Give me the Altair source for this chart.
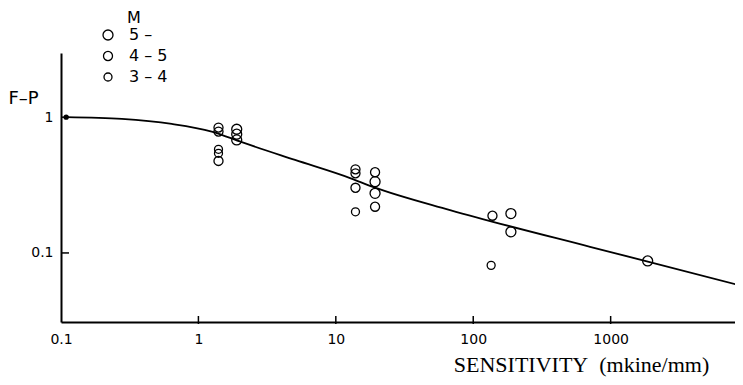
import altair as alt
import pandas as pd

# Observations: sensitivity (mkine/mm), F-P ratio, magnitude class
obs_x = [1.4, 1.4, 1.4, 1.4, 1.4,
         1.9, 1.9, 1.9,
         13.9, 13.9, 13.9, 13.9,
         19.3, 19.3, 19.3, 19.3,
         138, 135,
         188, 188,
         1860]
obs_y = [0.838, 0.783, 0.580, 0.542, 0.476,
         0.815, 0.749, 0.680,
         0.413, 0.386, 0.302, 0.201,
         0.393, 0.335, 0.275, 0.219,
         0.188, 0.081,
         0.195, 0.143,
         0.0873]
obs_m = ["4 – 5", "4 – 5", "3 – 4", "3 – 4", "4 – 5",
         "5 –", "5 –", "5 –",
         "4 – 5", "4 – 5", "4 – 5", "3 – 4",
         "4 – 5", "5 –", "5 –", "4 – 5",
         "4 – 5", "3 – 4",
         "5 –", "5 –",
         "5 –"]

# Fitted curve
curve_x = [0.109, 0.277, 0.64, 1.25, 2.07, 5.05, 12.7, 18.6, 67.8, 708, 1637, 8750]
curve_y = [1.0, 0.971, 0.892, 0.783, 0.654, 0.484, 0.356, 0.307, 0.207, 0.111, 0.0894, 0.0577]

start_x = [0.109]
start_y = [1.0]

legend_order = ["5 –", "4 – 5", "3 – 4"]
legend_sizes = [100, 64, 25]

x_ticks = [0.1, 1, 10, 100, 1000]
x_inner_ticks = [1, 10, 100, 1000]
y_ticks = [0.1, 1]

W, H = 674, 269

obs = pd.DataFrame({"x": obs_x, "y": obs_y, "M": obs_m})
curve = pd.DataFrame({"x": curve_x, "y": curve_y})
start = pd.DataFrame({"x": start_x, "y": start_y})
xt = pd.DataFrame({"t": x_inner_ticks})
yt = pd.DataFrame({"t": y_ticks})

xscale = alt.Scale(type="log", domain=[0.1, 8035], nice=False)
yscale = alt.Scale(type="log", domain=[0.031, 2.97], nice=False)

font = "DejaVu Sans"

x_axis = alt.Axis(
    values=x_ticks, format="~g", ticks=False, grid=False,
    labelPadding=10, labelFlush=False, labelOverlap=False,
    labelFont=font, labelFontSize=14, labelColor="black",
    domainColor="black", domainWidth=2,
    title="SENSITIVITY\u00a0 (mkine/mm)", titleFont="Liberation Serif",
    titleFontSize=22, titleFontWeight="normal", titleColor="black",
    titleX=520, titleY=42, titleAlign="center", titleBaseline="middle",
)
y_axis = alt.Axis(
    values=y_ticks, format="~g", ticks=False, grid=False,
    labelPadding=8, labelFlush=False, labelOverlap=False,
    labelFont=font, labelFontSize=14, labelColor="black",
    domainColor="black", domainWidth=2,
    title="F–P", titleAngle=0, titleFont=font, titleFontSize=18,
    titleFontWeight="normal", titleColor="black",
    titleX=-53, titleY=45, titleAlign="left", titleBaseline="middle",
)

X = alt.X("x:Q", scale=xscale, axis=x_axis)
Y = alt.Y("y:Q", scale=yscale, axis=y_axis)

line = alt.Chart(curve).mark_line(
    color="black", strokeWidth=1.8, interpolate="monotone", clip=True
).encode(x=X, y=Y)

dot = alt.Chart(start).mark_point(
    shape="circle", filled=True, color="black", size=28, opacity=1
).encode(x=X, y=Y)

pts = alt.Chart(obs).mark_point(
    shape="circle", filled=False, color="black", strokeWidth=1.3, opacity=1
).encode(
    x=X, y=Y,
    size=alt.Size(
        "M:O",
        scale=alt.Scale(domain=legend_order, range=legend_sizes),
        legend=alt.Legend(
            title="M", orient="none", legendX=39, legendY=-43,
            titleAnchor="middle", titleFont=font, titleFontSize=16,
            titleFontWeight="normal", titleColor="black", titlePadding=1,
            labelFont=font, labelFontSize=16, labelColor="black",
            labelOffset=13, rowPadding=5,
            symbolType="circle", symbolStrokeColor="black",
            symbolStrokeWidth=1.3, symbolFillColor="white",
        ),
    ),
)

xtick_marks = alt.Chart(xt).mark_rule(color="black", strokeWidth=1.5).encode(
    x=alt.X("t:Q", scale=xscale, axis=x_axis),
    y=alt.value(H - 6),
    y2=alt.value(H + 2),
)
ytick_marks = alt.Chart(yt).mark_rule(color="black", strokeWidth=1.5).encode(
    y=alt.Y("t:Q", scale=yscale, axis=y_axis),
    x=alt.value(0),
    x2=alt.value(8),
)

chart = alt.layer(line, xtick_marks, ytick_marks, pts, dot).properties(
    width=W, height=H,
    autosize=alt.AutoSizeParams(type="none"),
    padding={"left": 53, "top": 45, "right": 0, "bottom": 55},
    background="white",
).configure_view(stroke=None)

chart.save("out.html", embed_options={"renderer": "svg", "actions": False})
